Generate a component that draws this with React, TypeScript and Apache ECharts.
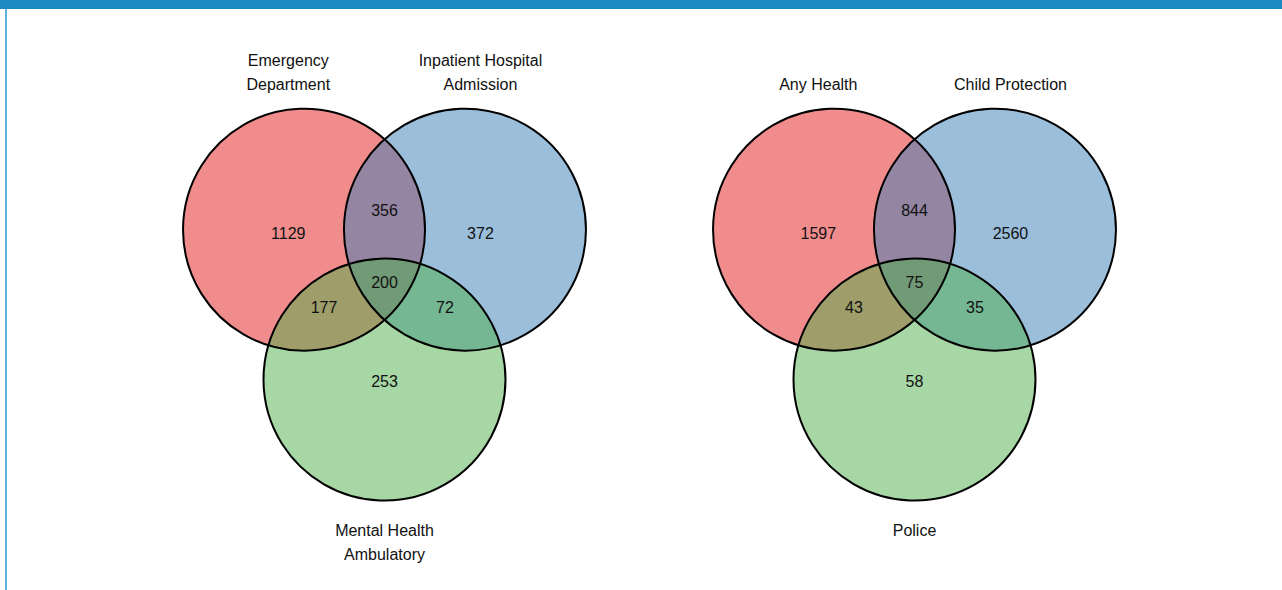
import React, { useEffect, useRef } from "react";
import * as echarts from "echarts";

// ---- Data ----
// Region order: A only, B only, C only, A∩B, A∩C, B∩C, A∩B∩C
const leftSetNames = ["Emergency\nDepartment", "Inpatient Hospital\nAdmission", "Mental Health\nAmbulatory"];
const leftCounts = [1129, 372, 253, 356, 177, 72, 200];
const rightSetNames = ["Any Health", "Child Protection", "Police"];
const rightCounts = [1597, 2560, 58, 844, 43, 35, 75];

// ---- Venn layout (unit circle geometry) ----
const circleCenters = [
  [-0.665, 0],
  [0.665, 0],
  [0, -1.248],
];
const circleRadius = 1;
const regionAnchors = [
  [-0.795, -0.03],
  [0.793, -0.03],
  [0, -1.262],
  [0, 0.158],
  [-0.5, -0.647],
  [0.5, -0.647],
  [0, -0.443],
];
// set label anchors: [x, y, verticalAlign]
const setLabelAnchors: [number, number, string][] = [
  [-0.795, 1.108, "bottom"],
  [0.793, 1.108, "bottom"],
  [0, -2.405, "top"],
];
const setColors = ["rgba(228,26,28,0.5)", "rgba(55,126,184,0.5)", "rgba(77,175,74,0.5)"];

const FONT = "'Liberation Sans', Arial, Helvetica, sans-serif";

function buildSeries(gridIndex: number, names: string[], counts: number[]) {
  const circleData = circleCenters.map((c, i) => [c[0], c[1], circleRadius, i]);
  const fills = {
    type: "custom",
    xAxisIndex: gridIndex,
    yAxisIndex: gridIndex,
    clip: false,
    silent: true,
    data: circleData,
    renderItem: (params: any, api: any) => {
      const p = api.coord([api.value(0), api.value(1)]);
      const r = api.size([api.value(2), 0])[0];
      return {
        type: "circle",
        shape: { cx: p[0], cy: p[1], r },
        style: { fill: setColors[api.value(3)], stroke: "none" },
      };
    },
  };
  const outlines = {
    type: "custom",
    xAxisIndex: gridIndex,
    yAxisIndex: gridIndex,
    clip: false,
    silent: true,
    data: circleData,
    renderItem: (params: any, api: any) => {
      const p = api.coord([api.value(0), api.value(1)]);
      const r = api.size([api.value(2), 0])[0];
      return {
        type: "circle",
        shape: { cx: p[0], cy: p[1], r },
        style: { fill: "none", stroke: "#000", lineWidth: 2 },
      };
    },
  };
  const counts2 = {
    type: "custom",
    xAxisIndex: gridIndex,
    yAxisIndex: gridIndex,
    clip: false,
    silent: true,
    data: regionAnchors.map((a, i) => [a[0], a[1], counts[i]]),
    renderItem: (params: any, api: any) => {
      const p = api.coord([api.value(0), api.value(1)]);
      return {
        type: "text",
        x: p[0],
        y: p[1],
        style: {
          text: String(api.value(2)),
          align: "center",
          verticalAlign: "middle",
          fontSize: 16,
          fontFamily: FONT,
          fill: "#111",
        },
      };
    },
  };
  const labels = {
    type: "custom",
    xAxisIndex: gridIndex,
    yAxisIndex: gridIndex,
    clip: false,
    silent: true,
    data: setLabelAnchors.map((a, i) => [a[0], a[1], i]),
    renderItem: (params: any, api: any) => {
      const i = api.value(2);
      const p = api.coord([api.value(0), api.value(1)]);
      return {
        type: "text",
        x: p[0],
        y: p[1],
        style: {
          text: names[i],
          align: "center",
          verticalAlign: setLabelAnchors[i][2],
          fontSize: 16,
          lineHeight: 24,
          fontFamily: FONT,
          fill: "#111",
        },
      };
    },
  };
  return [fills, outlines, counts2, labels];
}

export default function App() {
  const ref = useRef<HTMLDivElement>(null);
  useEffect(() => {
    document.body.style.margin = "0";
    if (!ref.current) return;
    const chart = echarts.init(ref.current, null, { renderer: "svg" });
    const axisCommon = { type: "value", show: false, splitLine: { show: false } };
    chart.setOption({
      animation: false,
      backgroundColor: "#fff",
      grid: [
        { left: 142.5, top: 49.5, width: 484, height: 544.5 },
        { left: 672.5, top: 49.5, width: 484, height: 544.5 },
      ],
      xAxis: [
        { ...axisCommon, gridIndex: 0, min: -2, max: 2 },
        { ...axisCommon, gridIndex: 1, min: -2, max: 2 },
      ],
      yAxis: [
        { ...axisCommon, gridIndex: 0, min: -3, max: 1.5 },
        { ...axisCommon, gridIndex: 1, min: -3, max: 1.5 },
      ],
      graphic: [
        { type: "rect", shape: { x: 0, y: 0, width: 1282, height: 9 }, style: { fill: "#1b8ac5" } },
        { type: "rect", shape: { x: 5, y: 9, width: 2, height: 590 }, style: { fill: "#5bb3de" } },
      ],
      series: [
        ...buildSeries(0, leftSetNames, leftCounts),
        ...buildSeries(1, rightSetNames, rightCounts),
      ],
    });
    return () => chart.dispose();
  }, []);
  return <div ref={ref} style={{ width: 1282, height: 590 }} />;
}
